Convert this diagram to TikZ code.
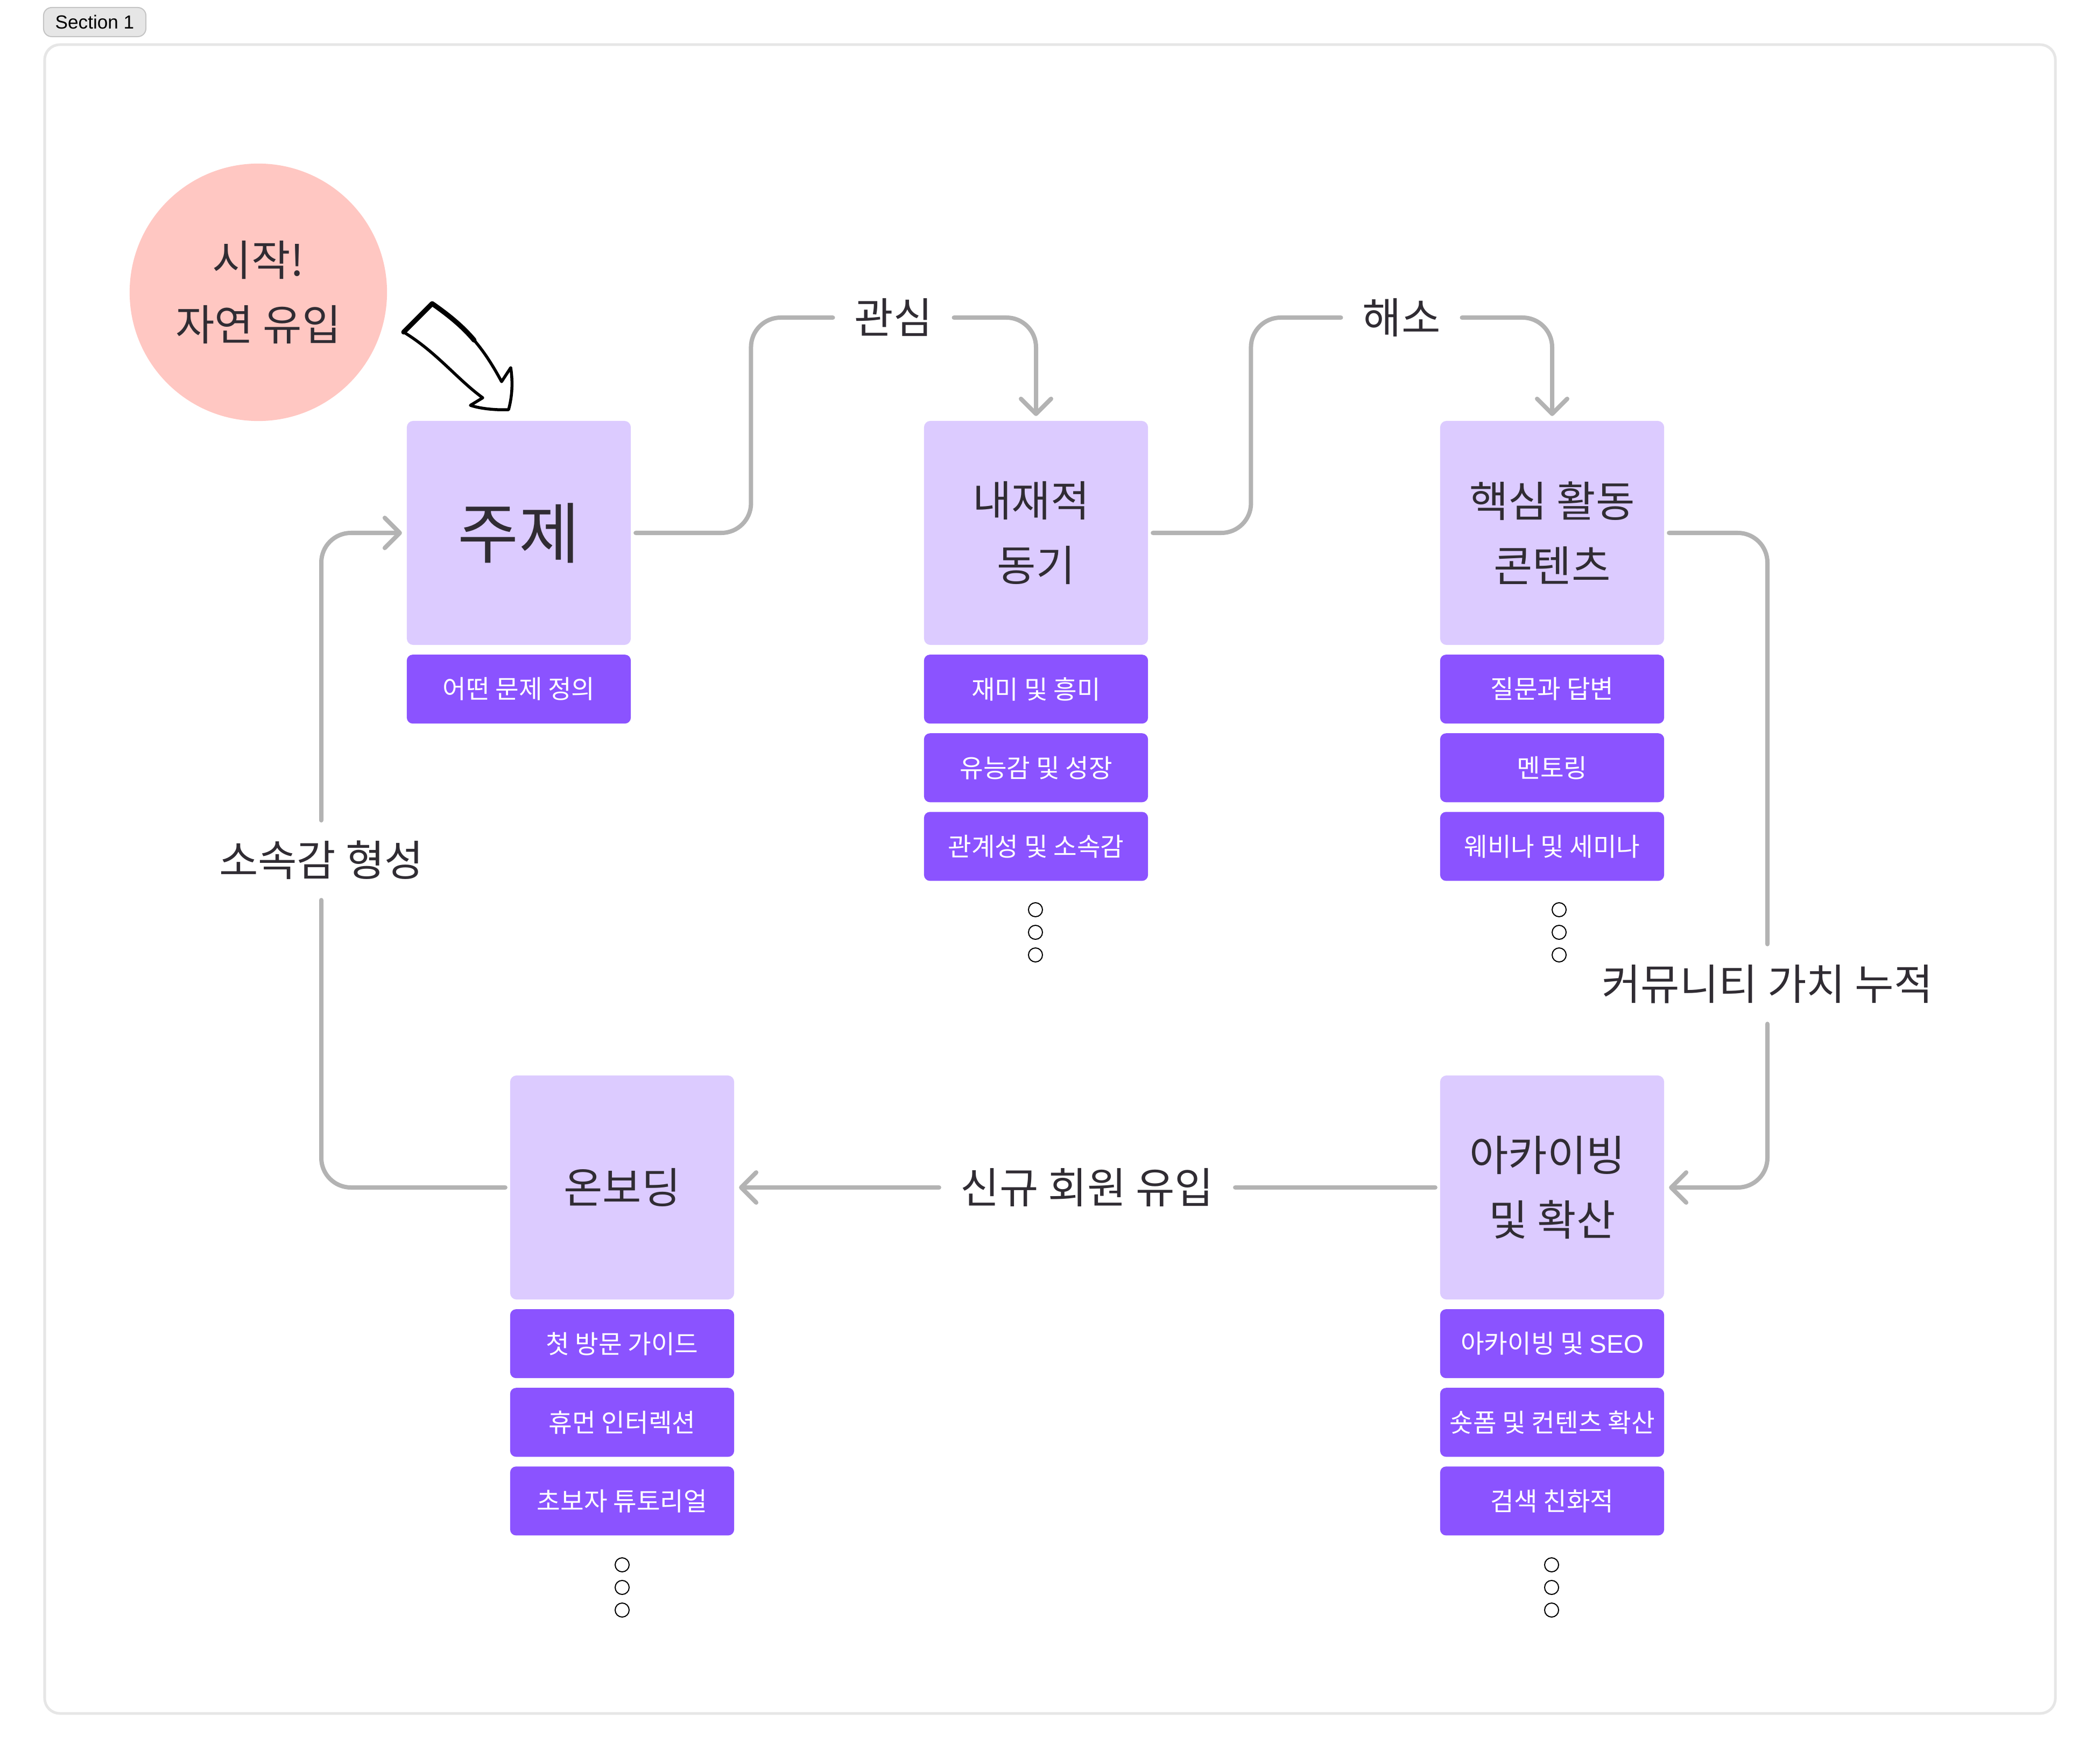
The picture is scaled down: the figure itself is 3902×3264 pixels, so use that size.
\documentclass[tikz,border=0pt]{standalone}
\usepackage{fontspec}
\setmainfont{Noto Sans CJK KR}
\newfontfamily\latinfont{Liberation Sans}
\usetikzlibrary{arrows.meta, positioning}
\definecolor{framegray}{RGB}{230,230,230}
\definecolor{taggray}{RGB}{196,196,196}
\definecolor{linegray}{RGB}{179,179,179}
\definecolor{softpink}{RGB}{255,199,194}
\definecolor{softviolet}{RGB}{220,203,255}
\definecolor{accent}{RGB}{139,83,255}
\definecolor{inktext}{RGB}{48,44,51}
\tikzset{
  mainbox/.style={fill=softviolet, rounded corners=0.12cm, minimum size=4.16cm, inner sep=0pt, outer sep=0.09cm, align=center, text=inktext, font=\fontsize{22.4}{34}\selectfont},
  itembox/.style={fill=accent, rounded corners=0.11cm, minimum width=4.16cm, minimum height=1.28cm, inner sep=0pt, outer sep=0pt, text=white, font=\fontsize{13.5}{16}\selectfont},
  steplabel/.style={inner xsep=0.40cm, inner ysep=0pt, minimum height=1.48cm, outer sep=0pt, text=inktext, font=\fontsize{22.4}{26}\selectfont},
  flowline/.style={linegray, line width=0.08cm, line cap=round, rounded corners=0.55cm},
  flowarrow/.style={flowline, -{Straight Barb[length=0.28cm, width=0.56cm, round]}},
  dotmark/.style={circle, draw=black, line width=0.02cm, minimum size=0.26cm, inner sep=0pt}
}
\begin{document}
\begin{tikzpicture}[x=0.01cm, y=-0.01cm]
  \useasboundingbox (0,0) rectangle (3902,3264);
  % Section frame and tag
  \draw[framegray, line width=0.05cm, rounded corners=0.28cm] (83,83) rectangle (3819,3183);
  \node[fill=framegray, draw=taggray, line width=0.02cm, rounded corners=0.15cm, minimum width=1.9cm, minimum height=0.54cm, inner sep=0pt, font=\latinfont\fontsize{10}{12}\selectfont] (tag) at (176,41) {Section 1};
  % Start circle
  \node[circle, fill=softpink, minimum size=4.78cm, inner sep=0pt, align=center, text=inktext, font=\fontsize{22.4}{34}\selectfont] (start) at (480,543) {시작!\\자연 유입};
  % Hand drawn arrow
  \draw[black, line width=0.055cm, line join=round] (803,564) -- (750,617) .. controls (811,654) and (850,705) .. (897,739) -- (874,753) .. controls (895,760) and (925,762) .. (945,761) .. controls (952,735) and (953,710) .. (949,683) -- (932,709) .. controls (900,650) and (870,610) .. (803,564) -- cycle;
  \draw[black, line width=0.09cm, line join=round, line cap=round] (750,617) -- (803,564) .. controls (836,587) and (861,608) .. (881,632);
  % Main boxes
  \node[mainbox, font=\fontsize{35}{40}\selectfont] (topic) at (964,990) {주제};
  \node[mainbox] (motive) at (1925,990) {내재적\kern0.18cm\\동기};
  \node[mainbox] (core) at (2884,990) {핵심 활동\\콘텐츠};
  \node[mainbox] (onboard) at (1156,2206) {온보딩};
  \node[mainbox] (archive) at (2884,2206) {아카이빙\kern0.18cm\\및 확산};
  % Items below the boxes
  \node[itembox, below=0.09cm of topic] (topic1) {어떤 문제 정의};
  \node[itembox, below=0.09cm of motive] (motive1) {재미 및 흥미};
  \node[itembox, below=0.18cm of motive1] (motive2) {유능감 및 성장};
  \node[itembox, below=0.18cm of motive2] (motive3) {관계성 및 소속감};
  \node[itembox, below=0.09cm of core] (core1) {질문과 답변};
  \node[itembox, below=0.18cm of core1] (core2) {멘토링};
  \node[itembox, below=0.18cm of core2] (core3) {웨비나 및 세미나};
  \node[itembox, below=0.09cm of onboard] (onboard1) {첫 방문 가이드};
  \node[itembox, below=0.18cm of onboard1] (onboard2) {휴먼 인터렉션};
  \node[itembox, below=0.18cm of onboard2] (onboard3) {초보자 튜토리얼};
  \node[itembox, below=0.09cm of archive] (archive1) {아카이빙 및 {\latinfont SEO}};
  \node[itembox, below=0.18cm of archive1] (archive2) {숏폼 및 컨텐츠 확산};
  \node[itembox, below=0.18cm of archive2] (archive3) {검색 친화적};
  % Dots
  \foreach \y in {1690,1732,1774} {
    \node[dotmark] (dotm\y) at (1924,\y) {};
    \node[dotmark] (dotc\y) at (2897,\y) {};
  }
  \foreach \y in {2907,2949,2991} {
    \node[dotmark] (doto\y) at (1156,\y) {};
    \node[dotmark] (dota\y) at (2883,\y) {};
  }
  % Step labels
  \node[steplabel] (interest) at (1660,590) {관심};
  \node[steplabel] (relief) at (2604,590) {해소};
  \node[steplabel] (accum) at (3284,1828) {커뮤니티 가치 누적};
  \node[steplabel] (newcomer) at (2020,2206) {신규 회원 유입};
  \node[steplabel] (belong) at (597,1598) {소속감 형성};
  % Connectors
  \draw[flowline] (topic.east) -| ([xshift=-1.52cm]interest.west) -- (interest.west);
  \draw[flowarrow] (interest.east) -| (motive.north);
  \draw[flowline] (motive.east) -| ([xshift=-1.67cm]relief.west) -- (relief.west);
  \draw[flowarrow] (relief.east) -| (core.north);
  \draw[flowline] (core.east) -| (accum.north);
  \draw[flowarrow] (accum.south) |- (archive.east);
  \draw[flowline] (archive.west) -- (newcomer.east);
  \draw[flowarrow] (newcomer.west) -- (onboard.east);
  \draw[flowline] (onboard.west) -| (belong.south);
  \draw[flowarrow] (belong.north) |- (topic.west);
\end{tikzpicture}
\end{document}
